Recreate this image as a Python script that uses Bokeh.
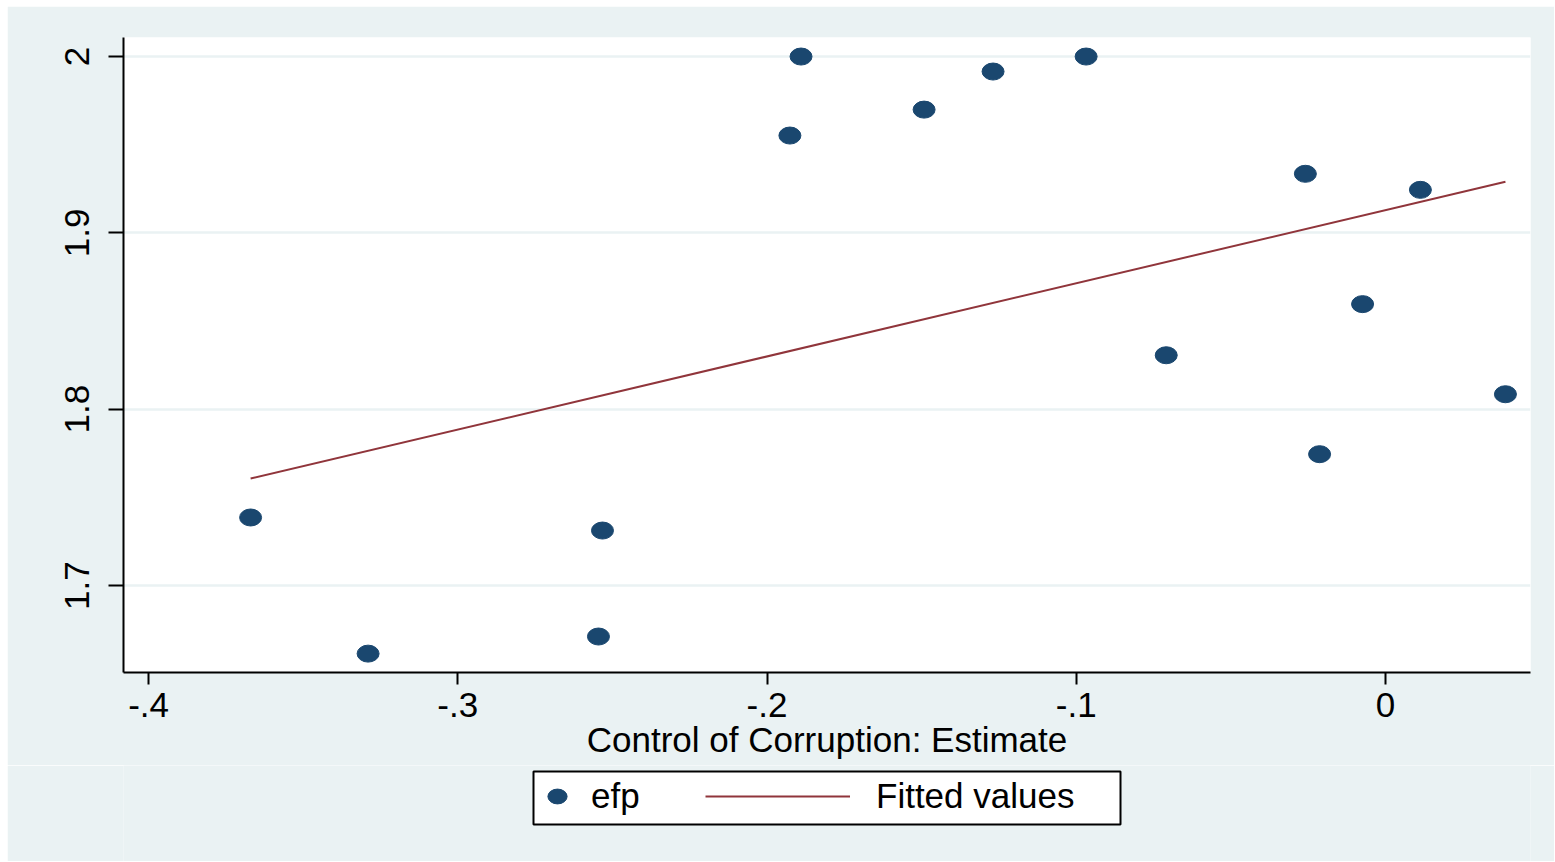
import numpy as np
from bokeh.plotting import figure
from bokeh.layouts import column
from bokeh.models import (Range1d, Legend, LegendItem, BoxAnnotation, FixedTicker,
                          CustomJSTickFormatter)
from bokeh.embed import file_html
from bokeh.resources import INLINE

# ---- data ----
corruption = [-0.367, -0.329, -0.2545, -0.2532, -0.1926, -0.189, -0.1492, -0.1269,
              -0.0968, -0.0709, -0.0259, -0.0213, -0.0074, 0.0113, 0.0388]
efp = [1.7386, 1.6614, 1.6711, 1.7312, 1.9552, 2.0, 1.9699, 1.9915,
       2.0, 1.8306, 1.9335, 1.7745, 1.8596, 1.9244, 1.8085]
x_ticks = [-0.4, -0.3, -0.2, -0.1, 0.0]
x_tick_labels = ["-.4", "-.3", "-.2", "-.1", "0"]
y_ticks = [1.7, 1.8, 1.9, 2.0]
y_tick_labels = ["1.7", "1.8", "1.9", "2"]
x_title = "Control of Corruption: Estimate"
series_names = ["efp", "Fitted values"]

# linear fit (Stata lfit)
slope, intercept = np.polyfit(corruption, efp, 1)
fit_x = [min(corruption), max(corruption)]
fit_y = [intercept + slope * v for v in fit_x]

NAVY = "#1a476f"
MAROON = "#90353b"
BG = "#eaf2f3"
FONT = "Liberation Sans"
FS = "35px"

p = figure(width=1547, height=759, output_backend="svg", toolbar_location=None,
           x_range=Range1d(-0.4081, 0.0469), y_range=Range1d(1.6507, 2.0108),
           min_border_left=116, min_border_right=24, min_border_top=31,
           min_border_bottom=93)
p.border_fill_color = BG
p.background_fill_color = "white"
p.outline_line_color = None

r_pts = p.ellipse(x=corruption, y=efp, width=22, height=17,
                  width_units="screen", height_units="screen",
                  fill_color=NAVY, line_color=NAVY)
r_fit = p.line(x=fit_x, y=fit_y, line_color=MAROON, line_width=2)

# axes
fmt_js = "const i = tvals.findIndex(t => Math.abs(t - tick) < 1e-9); return i >= 0 ? tlabels[i] : '';"
p.xaxis.ticker = FixedTicker(ticks=x_ticks)
p.xaxis.formatter = CustomJSTickFormatter(args=dict(tvals=x_ticks, tlabels=x_tick_labels), code=fmt_js)
p.yaxis.ticker = FixedTicker(ticks=y_ticks)
p.yaxis.formatter = CustomJSTickFormatter(args=dict(tvals=y_ticks, tlabels=y_tick_labels), code=fmt_js)
p.yaxis.major_label_orientation = "vertical"
p.xaxis.axis_label = x_title
for ax in (p.xaxis, p.yaxis):
    ax.axis_line_width = 2
    ax.axis_line_color = "black"
    ax.major_tick_line_width = 2
    ax.major_tick_in = 0
    ax.minor_tick_line_color = None
    ax.major_label_text_font = FONT
    ax.major_label_text_font_size = FS
    ax.major_label_text_color = "black"
p.yaxis.major_tick_out = 15
p.xaxis.major_tick_out = 12
p.yaxis.major_label_standoff = 19
p.xaxis.major_label_standoff = 8
p.xaxis.axis_label_text_font = FONT
p.xaxis.axis_label_text_font_size = FS
p.xaxis.axis_label_text_font_style = "normal"
p.xaxis.axis_label_text_color = "black"
p.xaxis.axis_label_standoff = 0

p.xgrid.visible = False
p.ygrid.ticker = FixedTicker(ticks=y_ticks)
p.ygrid.grid_line_color = BG
p.ygrid.grid_line_width = 2.5

# ---- legend strip (same series, drawn off-range so only the legend shows) ----
pl = figure(width=1547, height=96, output_backend="svg", toolbar_location=None,
            x_range=Range1d(5, 6), y_range=Range1d(5, 6),
            x_axis_type=None, y_axis_type=None,
            min_border_left=116, min_border_right=24, min_border_top=0,
            min_border_bottom=0)
pl.border_fill_color = BG
pl.background_fill_color = BG
pl.background_fill_alpha = 1.0
pl.outline_line_color = None
l_pts = pl.ellipse(x=corruption, y=efp, width=22, height=17,
                   width_units="screen", height_units="screen",
                   fill_color=NAVY, line_color=NAVY)
l_fit = pl.line(x=fit_x, y=fit_y, line_color=MAROON, line_width=2)

box = BoxAnnotation(left=526, right=1113, top=6, bottom=59,
                    left_units="canvas", right_units="canvas",
                    top_units="canvas", bottom_units="canvas",
                    fill_color="white", fill_alpha=1.0,
                    line_color="black", line_alpha=1.0, line_dash="solid",
                    line_width=2, level="annotation")
pl.add_layout(box)

common = dict(padding=0, spacing=0, margin=0, border_line_alpha=0,
              background_fill_alpha=0, label_text_font=FONT,
              label_text_font_size=FS, label_text_color="black",
              glyph_height=44, label_height=44)
leg_a = Legend(items=[LegendItem(label=series_names[0], renderers=[l_pts])],
               location=(422, 43), glyph_width=24, label_standoff=22, **common)
leg_b = Legend(items=[LegendItem(label=series_names[1], renderers=[l_fit])],
               location=(582, 43), glyph_width=145, label_standoff=26, **common)
pl.add_layout(leg_a, "center")
pl.add_layout(leg_b, "center")

layout = column(p, pl, spacing=0, margin=(6, 0, 0, 7))
open("out.html", "w").write(file_html(layout, INLINE))
